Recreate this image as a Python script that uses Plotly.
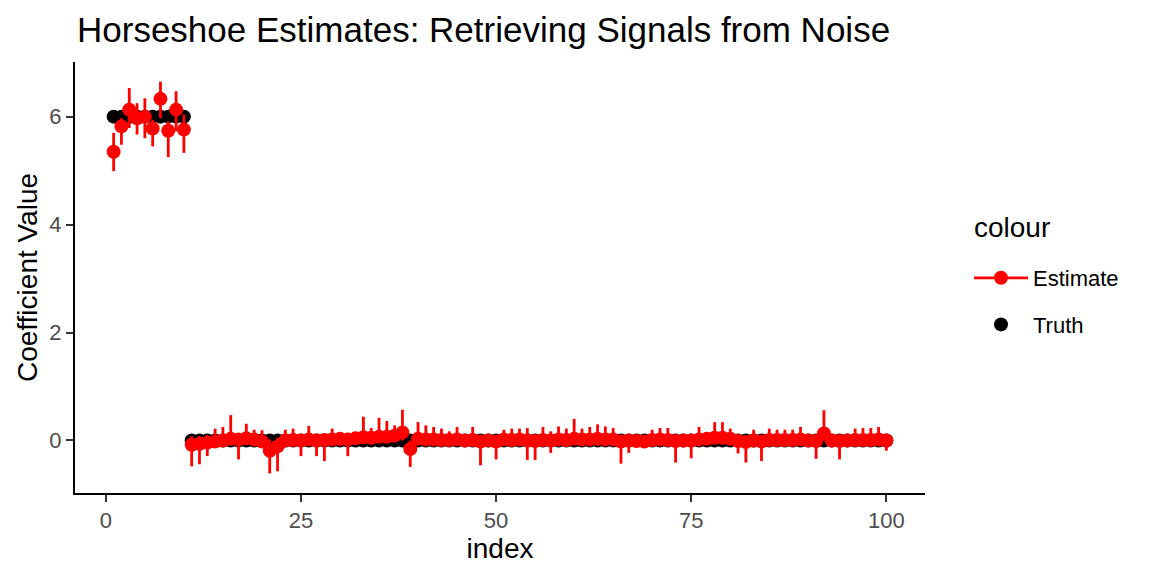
import plotly.graph_objects as go

index = list(range(1, 101))
truth = [6] * 10 + [0] * 90

est = [5.35, 5.82, 6.13, 5.97, 6.00, 5.78, 6.33, 5.74, 6.13, 5.76,
       -0.08, -0.06, -0.04, -0.02, 0.00, 0.03, 0.02, 0.04, 0.02, -0.02,
       -0.19, -0.11, 0.00, 0.01, 0.00, 0.02, 0.00, 0.01, 0.02, 0.03,
       0.02, 0.04, 0.06, 0.05, 0.07, 0.07, 0.09, 0.15, -0.16, 0.03,
       0.02, 0.02, 0.01, 0.01, 0.02, 0.00, 0.01, -0.02, 0.00, -0.02,
       0.02, 0.01, 0.02, 0.00, -0.01, 0.01, 0.00, 0.02, 0.01, 0.03,
       0.02, 0.02, 0.03, 0.02, 0.02, -0.02, 0.00, -0.01, -0.02, 0.01,
       0.02, 0.01, -0.01, 0.00, 0.00, 0.02, 0.03, 0.05, 0.05, 0.03,
       -0.01, -0.03, 0.00, -0.02, 0.01, 0.01, 0.01, 0.01, 0.02, 0.00,
       -0.01, 0.13, 0.00, -0.01, 0.00, 0.01, 0.01, 0.01, 0.02, 0.00]

lower = [4.99, 5.48, 5.79, 5.67, 5.60, 5.45, 5.97, 5.25, 5.73, 5.33,
         -0.48, -0.44, -0.29, -0.12, -0.10, -0.08, -0.35, -0.08, -0.10, -0.14,
         -0.61, -0.57, -0.10, -0.10, -0.29, -0.09, -0.29, -0.38, -0.08, -0.10,
         -0.29, -0.08, -0.06, -0.06, -0.05, -0.05, -0.03, 0.00, -0.49, -0.08,
         -0.10, -0.10, -0.10, -0.10, -0.10, -0.10, -0.10, -0.46, -0.10, -0.35,
         -0.08, -0.10, -0.08, -0.36, -0.36, -0.10, -0.23, -0.10, -0.10, -0.08,
         -0.10, -0.10, -0.10, -0.10, -0.10, -0.43, -0.23, -0.12, -0.14, -0.10,
         -0.10, -0.10, -0.41, -0.12, -0.33, -0.10, -0.08, -0.06, -0.06, -0.08,
         -0.24, -0.41, -0.10, -0.38, -0.10, -0.10, -0.10, -0.10, -0.10, -0.12,
         -0.34, 0.00, -0.12, -0.35, -0.12, -0.10, -0.10, -0.10, -0.10, -0.19]

upper = [5.70, 5.97, 6.53, 6.25, 6.34, 5.94, 6.65, 5.91, 6.47, 6.04,
         0.08, 0.08, 0.10, 0.22, 0.25, 0.47, 0.12, 0.31, 0.20, 0.19,
         0.02, 0.05, 0.20, 0.22, 0.12, 0.27, 0.10, 0.12, 0.22, 0.14,
         0.14, 0.15, 0.44, 0.23, 0.42, 0.36, 0.28, 0.57, 0.00, 0.34,
         0.28, 0.25, 0.22, 0.17, 0.25, 0.12, 0.25, 0.10, 0.12, 0.10,
         0.20, 0.22, 0.22, 0.23, 0.10, 0.25, 0.17, 0.26, 0.22, 0.40,
         0.22, 0.25, 0.30, 0.26, 0.23, 0.08, 0.10, 0.10, 0.08, 0.20,
         0.23, 0.23, 0.10, 0.12, 0.10, 0.25, 0.15, 0.34, 0.34, 0.22,
         0.10, 0.08, 0.20, 0.10, 0.22, 0.20, 0.20, 0.20, 0.25, 0.12,
         0.10, 0.56, 0.12, 0.10, 0.12, 0.22, 0.23, 0.23, 0.25, 0.12]

x_ticks = [0, 25, 50, 75, 100]
y_ticks = [0, 2, 4, 6]

FONT = "Liberation Sans, Arial, Helvetica, sans-serif"
RED = "#FF0000"

# the page body adds an 8px margin; the figure is sized/offset to compensate
OFF = 8
W, H = 1152 - OFF, 576 - OFF
L, T, PW, PH = 75 - OFF, 62 - OFF, 850, 431

err_plus = [u - e for u, e in zip(upper, est)]
err_minus = [e - l for e, l in zip(est, lower)]

fig = go.Figure()

fig.add_trace(go.Scatter(
    x=index, y=truth, mode="markers", name="Truth",
    marker=dict(color="black", size=14),
    legendrank=2, legendgroup="t",
))

fig.add_trace(go.Scatter(
    x=index, y=est, mode="markers", name="Estimate", showlegend=False,
    marker=dict(color=RED, size=14),
    error_y=dict(type="data", symmetric=False, array=err_plus,
                 arrayminus=err_minus, color=RED, thickness=2.8, width=0),
    legendgroup="e",
))

fig.add_trace(go.Scatter(
    x=[None], y=[None], mode="lines+markers", name="Estimate",
    line=dict(color=RED, width=2.8), marker=dict(color=RED, size=14),
    legendrank=1, legendgroup="e",
))

# ggplot-style expansion of the data range
ymin = min(lower); ymax = max(upper)
yspan = ymax - ymin
xmin = min(index); xmax = max(index)
xspan = xmax - xmin

axis_common = dict(
    showgrid=False, zeroline=False, showline=True, linecolor="black",
    linewidth=2, ticks="outside", ticklen=7, tickwidth=2, tickcolor="#333333",
    tickfont=dict(family=FONT, size=22, color="#4D4D4D"), automargin=False,
)

fig.update_layout(
    width=W, height=H,
    paper_bgcolor="white", plot_bgcolor="white",
    margin=dict(l=L, r=W - L - PW, t=T, b=H - T - PH, autoexpand=False),
    title=dict(text="Horseshoe Estimates: Retrieving Signals from Noise",
               x=(77 - OFF) / W, xref="container", xanchor="left",
               y=1 - (30 - OFF) / H, yref="container", yanchor="middle",
               font=dict(family=FONT, size=35, color="black")),
    xaxis=dict(range=[xmin - 0.05 * xspan, xmax + 0.05 * xspan],
               tickvals=x_ticks, ticktext=[str(v) for v in x_ticks],
               title=dict(text="index", standoff=0,
                          font=dict(family=FONT, size=28, color="black")),
               **axis_common),
    yaxis=dict(range=[ymin - 0.05 * yspan, ymax + 0.05 * yspan],
               tickvals=y_ticks, ticktext=[str(v) for v in y_ticks],
               title=dict(text="Coefficient Value", standoff=4,
                          font=dict(family=FONT, size=28, color="black")),
               **axis_common),
    legend=dict(
        x=(969 - 75) / PW, xanchor="left", y=(493 - 257) / PH, yanchor="top",
        font=dict(family=FONT, size=22, color="black"),
        tracegroupgap=15, itemwidth=54, bgcolor="rgba(0,0,0,0)",
    ),
    annotations=[dict(text="colour", xref="paper", yref="paper",
                      x=(972 - 75) / PW, y=(493 - 227) / PH,
                      xanchor="left", yanchor="middle", showarrow=False,
                      font=dict(family=FONT, size=28, color="black"))],
    showlegend=True,
)

fig.write_html("out.html")
